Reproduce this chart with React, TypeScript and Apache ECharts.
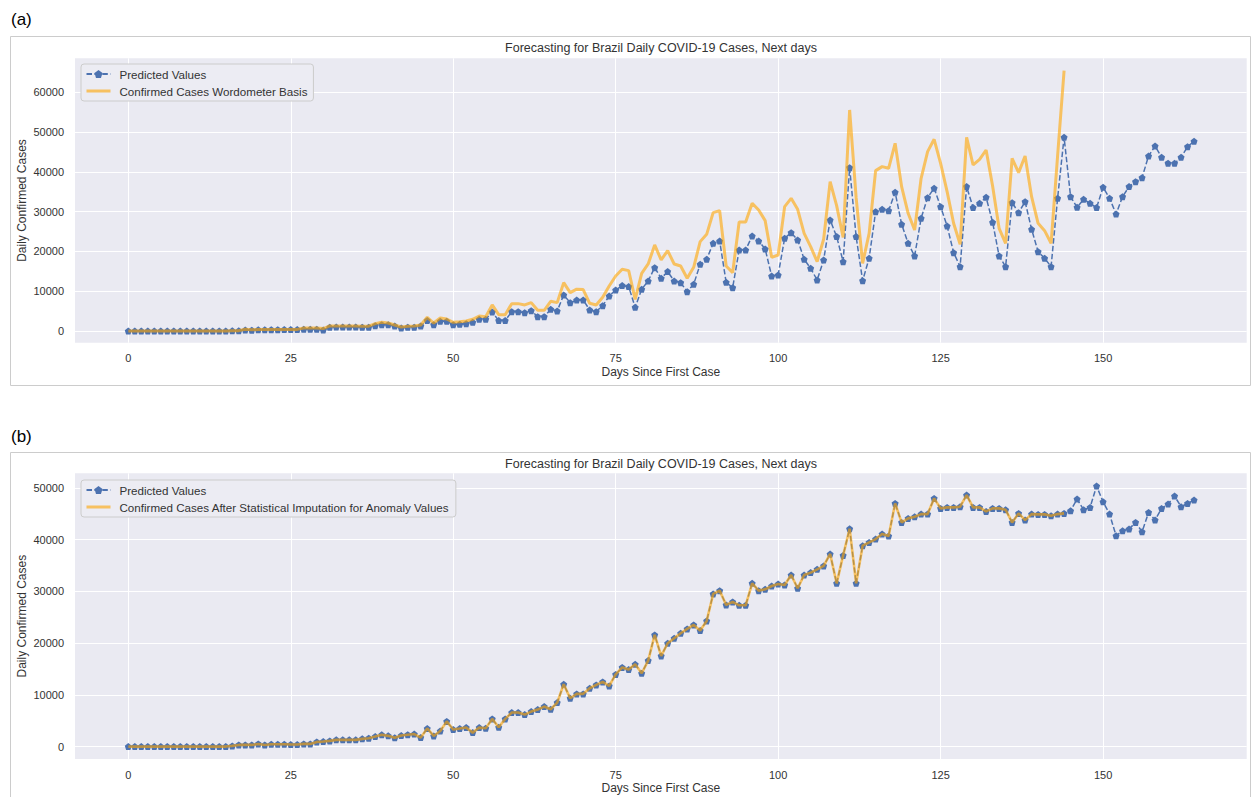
import React, { useEffect, useRef } from "react";
import * as echarts from "echarts";

// Panel (a): daily predicted values (days 0-164) and Worldometer confirmed cases (days 0-144)
const predictedA = [
  0, 0, 0, 0, 0, 0, 0, 0, 0, 0,
  0, 0, 0, 0, 0, 0, 50, 60, 250, 200,
  300, 280, 320, 330, 340, 350, 350, 420, 420, 420,
  250, 920, 1000, 1000, 1000, 1000, 950, 950, 1340, 1590,
  1590, 1260, 760, 950, 950, 1260, 2600, 1590, 2430, 2430,
  1590, 1680, 1840, 2180, 2930, 2930, 4770, 2600, 2600, 4860,
  4860, 4600, 5100, 3600, 3600, 5440, 5020, 9040, 7110, 7780,
  7790, 5280, 4860, 6370, 8800, 10300, 11400, 11150, 5950, 10480,
  12570, 15920, 13240, 14920, 12570, 12150, 9890, 11730, 16760, 18020,
  22040, 22630, 12230, 10890, 20360, 20360, 23880, 22630, 20610, 13830,
  14080, 23300, 24720, 22880, 18020, 15750, 12820, 17850, 27900, 23720,
  17430, 41060, 23720, 12650, 18270, 30000, 30590, 30250, 34860, 26820,
  22040, 18860, 28320, 33520, 35870, 31260, 26400, 19690, 16170, 36290,
  31010, 32100, 33600, 27320, 18860, 16170, 32260, 29750, 32510, 25560,
  19940, 18270, 16170, 33350, 48690, 33770, 31090, 33100, 32100, 31010,
  36120, 33350, 29410, 33770, 36290, 37540, 38550, 43990, 46510, 43660,
  42150, 42150, 43660, 46340, 47680,
];

const confirmedA = [
  0, 0, 0, 0, 0, 0, 0, 0, 0, 0,
  0, 0, 0, 0, 0, 0, 60, 80, 450, 300,
  380, 350, 380, 380, 400, 400, 400, 750, 750, 750,
  600, 1260, 1250, 1250, 1250, 1250, 1200, 1200, 1840, 2180,
  2000, 1500, 1000, 1200, 1250, 1500, 3430, 2000, 3270, 3000,
  2180, 2300, 2510, 2930, 3770, 3600, 6540, 4100, 4100, 6870,
  6870, 6540, 7120, 5190, 5190, 7460, 7120, 12150, 9640, 10500,
  10400, 6960, 6540, 8460, 11310, 13830, 15500, 15170, 7960, 14500,
  16840, 21620, 17850, 20200, 16840, 16340, 13240, 16000, 22460, 24300,
  29750, 30250, 16340, 14670, 27400, 27400, 32100, 30420, 27740, 18520,
  19100, 31260, 33350, 30590, 24550, 21200, 17430, 23050, 37540, 31500,
  23500, 55560, 33500, 17000, 24550, 40310, 41310, 40900, 47180, 36290,
  29580, 25390, 38380, 45080, 48190, 42150, 35030, 27070, 21790, 48690,
  41730, 43160, 45500, 36450, 25810, 22040, 43410, 39810, 44000, 33770,
  27070, 25220, 22040, 44000, 65450,
];

// Panel (b): confirmed cases after imputation (days 0-144) and the forecast that follows (days 145-164)
const confirmedImputedB = [
  0, 0, 0, 0, 0, 0, 0, 0, 0, 0,
  0, 0, 0, 0, 0, 0, 130, 320, 320, 320,
  515, 320, 450, 450, 450, 390, 390, 520, 520, 900,
  970, 1100, 1300, 1300, 1300, 1300, 1490, 1620, 1940, 2290,
  2070, 1710, 2130, 2300, 2420, 1740, 3500, 2060, 3000, 4860,
  3300, 3480, 3670, 2700, 3670, 3550, 5350, 3740, 5350, 6570,
  6570, 6180, 6760, 7150, 7730, 7210, 8500, 12040, 9340, 10180,
  10180, 11270, 11920, 12500, 11720, 13950, 15300, 14900, 15900, 14170,
  16620, 21580, 17520, 19960, 20930, 21900, 22730, 23500, 22410, 24280,
  29490, 30130, 27370, 27950, 27300, 27300, 31550, 30130, 30390, 31030,
  31420, 31230, 33160, 30580, 33160, 33610, 34250, 34900, 37210, 31540,
  36940, 42090, 31540, 38810, 39450, 40100, 41060, 40670, 46980, 43310,
  44090, 44410, 44920, 44920, 47950, 46020, 46210, 46210, 46340, 48590,
  46210, 46210, 45440, 46020, 46020, 45760, 43310, 45050, 43760, 44920,
  44860, 44860, 44600, 44920, 45050,
];

const forecastTailB = [
  45560, 47820, 45760, 46210, 50330, 47300, 44920, 40740, 41700, 42020,
  43310, 41510, 45240, 43760, 46020, 46850, 48400, 46340, 46980, 47630,
];

const predictedB = [...confirmedImputedB, ...forecastTailB];

const xTicks = [0, 25, 50, 75, 100, 125, 150];
const yTicksA = [0, 10000, 20000, 30000, 40000, 50000, 60000];
const yTicksB = [0, 10000, 20000, 30000, 40000, 50000];

const TITLE = "Forecasting for Brazil Daily COVID-19 Cases, Next days";
const X_NAME = "Days Since First Case";
const Y_NAME = "Daily Confirmed Cases";
const PRED_NAME = "Predicted Values";
const CONF_A_NAME = "Confirmed Cases Wordometer Basis";
const CONF_B_NAME = "Confirmed Cases After Statistical Imputation for Anomaly Values";

const FONT = "'Liberation Sans', Arial, Helvetica, sans-serif";
const BLUE = "#4C72B0";
const ORANGE = "#FFA500";
const TEXT = "#333333";
const PENTAGON = "path://M0,-1L0.951,-0.309L0.588,0.809L-0.588,0.809L-0.951,-0.309Z";

const toPairs = (arr: number[]) => arr.map((v, i) => [i, v]);

function xAxisFor(gridIndex: number) {
  return {
    type: "value" as const,
    gridIndex,
    min: -8.2,
    max: 172.1,
    name: X_NAME,
    nameLocation: "middle" as const,
    nameGap: 23,
    nameMoveOverlap: false,
    nameTextStyle: { fontSize: 12, color: TEXT, fontFamily: FONT },
    axisLine: { show: false },
    axisTick: { show: false, customValues: xTicks },
    axisLabel: {
      customValues: xTicks,
      color: TEXT,
      fontSize: 11,
      fontFamily: FONT,
      margin: 10,
      formatter: (v: number) => String(v),
    },
    splitLine: { show: true, lineStyle: { color: "#FFFFFF", width: 1 } },
  };
}

function yAxisFor(gridIndex: number, min: number, max: number, ticks: number[]) {
  return {
    type: "value" as const,
    gridIndex,
    min,
    max,
    name: Y_NAME,
    nameLocation: "middle" as const,
    nameGap: 47,
    nameMoveOverlap: false,
    nameTextStyle: { fontSize: 12, color: TEXT, fontFamily: FONT },
    axisLine: { show: false },
    axisTick: { show: false, customValues: ticks },
    axisLabel: {
      customValues: ticks,
      color: TEXT,
      fontSize: 11,
      fontFamily: FONT,
      margin: 11,
      formatter: (v: number) => String(v),
    },
    splitLine: { show: true, lineStyle: { color: "#FFFFFF", width: 1 } },
  };
}

function legendFor(left: number, top: number, confName: string) {
  return {
    orient: "vertical" as const,
    left,
    top,
    data: [
      { name: PRED_NAME },
      { name: confName, itemStyle: { opacity: 0 }, lineStyle: { width: 3, color: ORANGE, opacity: 0.6 } },
    ],
    itemWidth: 24,
    itemHeight: 10,
    itemGap: 5,
    padding: [4, 6, 4, 4],
    backgroundColor: "#ECECF3",
    borderColor: "#CCCCCC",
    borderWidth: 1,
    borderRadius: 3,
    selectedMode: false,
    textStyle: { fontSize: 11.6, color: TEXT, fontFamily: FONT, padding: [0, 0, 0, 4] },
  };
}

function predictedSeries(name: string, idx: number, data: number[]) {
  return {
    name,
    type: "line" as const,
    xAxisIndex: idx,
    yAxisIndex: idx,
    data: toPairs(data),
    symbol: PENTAGON,
    symbolSize: 7,
    showSymbol: true,
    itemStyle: { color: BLUE },
    lineStyle: { color: BLUE, width: 1.5, type: [5.5, 2.4] },
    z: 2,
  };
}

function confirmedSeries(name: string, idx: number, data: number[], width: number) {
  return {
    name,
    type: "line" as const,
    xAxisIndex: idx,
    yAxisIndex: idx,
    data: toPairs(data),
    symbol: "none",
    showSymbol: false,
    itemStyle: { color: ORANGE, opacity: 0.6 },
    lineStyle: { color: ORANGE, width, opacity: 0.6 },
    z: 3,
  };
}

export default function App() {
  const ref = useRef<HTMLDivElement>(null);

  useEffect(() => {
    if (!ref.current) return;
    const chart = echarts.init(ref.current, undefined, { renderer: "svg" });
    chart.setOption({
      animation: false,
      backgroundColor: "#FFFFFF",
      textStyle: { fontFamily: FONT },
      grid: [
        { left: 75, top: 58.3, width: 1171.7, height: 284.4, show: true, backgroundColor: "#EAEAF2", borderWidth: 0 },
        { left: 75, top: 473.3, width: 1171.7, height: 285.7, show: true, backgroundColor: "#EAEAF2", borderWidth: 0 },
      ],
      xAxis: [xAxisFor(0), xAxisFor(1)],
      yAxis: [yAxisFor(0, -2950, 68550, yTicksA), yAxisFor(1, -2400, 52800, yTicksB)],
      legend: [legendFor(81, 64, CONF_A_NAME), legendFor(81, 480, CONF_B_NAME)],
      series: [
        predictedSeries(PRED_NAME, 0, predictedA),
        confirmedSeries(CONF_A_NAME, 0, confirmedA, 3),
        predictedSeries(PRED_NAME, 1, predictedB),
        confirmedSeries(CONF_B_NAME, 1, confirmedImputedB, 2.6),
      ],
      graphic: [
        { type: "rect", shape: { x: 10.5, y: 36.5, width: 1240, height: 349 }, style: { fill: "none", stroke: "#CCCCCC", lineWidth: 1 }, silent: true },
        { type: "rect", shape: { x: 10.5, y: 452.5, width: 1240, height: 360 }, style: { fill: "none", stroke: "#CCCCCC", lineWidth: 1 }, silent: true },
        { type: "text", x: 11, y: 19, style: { text: "(a)", fontSize: 17, fill: "#000000", fontFamily: FONT, textVerticalAlign: "middle" } },
        { type: "text", x: 11, y: 436, style: { text: "(b)", fontSize: 17, fill: "#000000", fontFamily: FONT, textVerticalAlign: "middle" } },
        { type: "text", x: 661, y: 48, style: { text: TITLE, fontSize: 12.5, fill: TEXT, fontFamily: FONT, textAlign: "center", textVerticalAlign: "middle" } },
        { type: "text", x: 661, y: 463.5, style: { text: TITLE, fontSize: 12.5, fill: TEXT, fontFamily: FONT, textAlign: "center", textVerticalAlign: "middle" } },
      ],
    });
    return () => chart.dispose();
  }, []);

  return (
    <div
      ref={ref}
      style={{ position: "fixed", left: 0, top: 0, width: 1252, height: 797 }}
    />
  );
}
